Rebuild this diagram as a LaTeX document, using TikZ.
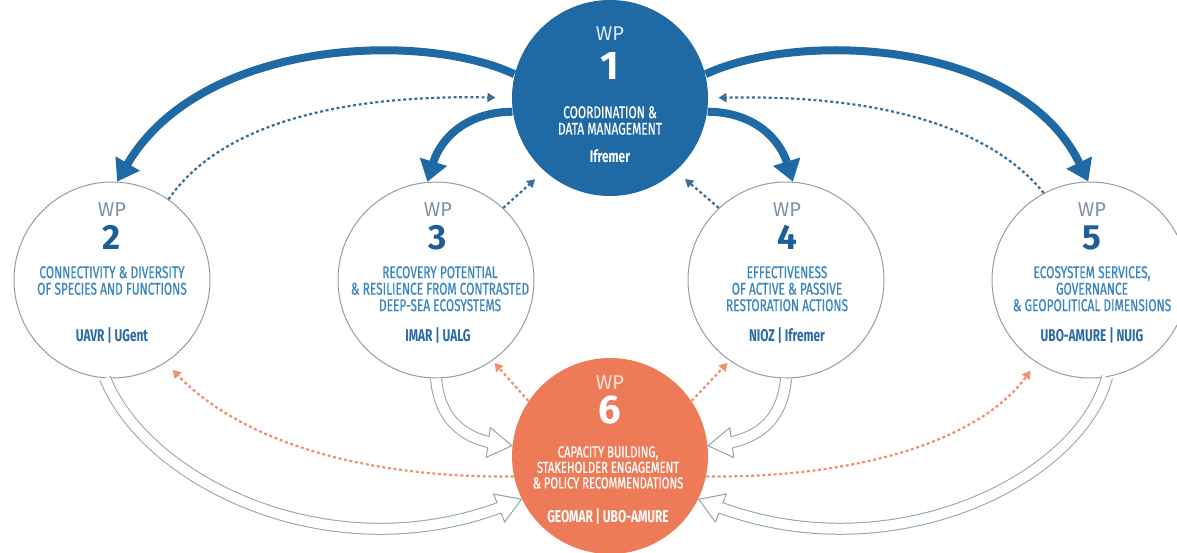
\documentclass[tikz,border=0pt]{standalone}
\usepackage{fontspec}
\setmainfont{Fira Sans}
\newfontfamily\cond[FakeStretch=0.7]{Fira Sans}
\newfontfamily\condb[FakeStretch=0.7,FakeBold=0.6]{Fira Sans}
\usetikzlibrary{arrows.meta,decorations.markings}
\definecolor{wpblue}{HTML}{1F69A5}
\definecolor{wporange}{HTML}{EE7B57}
\definecolor{ring}{HTML}{8E9FAA}
\definecolor{txtblue}{HTML}{3A86C0}
\definecolor{numblue}{HTML}{1C5F98}
\definecolor{partblue}{HTML}{2A6BA6}
\definecolor{wpgray}{HTML}{7F93A5}
\definecolor{dotb}{HTML}{3A6F99}
\definecolor{doto}{HTML}{F0916C}
\definecolor{hol}{HTML}{8FA3B0}
\newcommand\hollowarr[4]{%
  \draw[hollowshaft] #1 .. controls #2 and #3 .. #4;
  \path[hollowhead] #1 .. controls #2 and #3 .. #4;}
\begin{document}
\begin{tikzpicture}[x=1pt,y=-1pt,
  circ/.style={circle, minimum size=196pt, inner sep=0pt, draw=ring, line width=1pt, fill=white},
  wpl/.style={font=\fontsize{20}{20}\selectfont, text=wpgray, inner sep=0pt, anchor=base},
  numl/.style={font=\bfseries\fontsize{35}{35}\selectfont, text=numblue, inner sep=0pt, anchor=base},
  bodyl/.style={font=\condb\fontsize{17}{16.5}\selectfont, text=txtblue, align=center, inner sep=0pt, anchor=north},
  partl/.style={font=\cond\bfseries\fontsize{17}{17}\selectfont, text=partblue, inner sep=0pt, anchor=base},
  bigarrow/.style={draw=wpblue, line width=8pt, -{Triangle[length=21pt,width=27pt]}},
  dotblue/.style={draw=dotb, line width=2.2pt, dash pattern=on 3pt off 2.6pt, -{Triangle[length=8pt,width=9pt]}},
  dotorange/.style={draw=doto, line width=2.2pt, dash pattern=on 3pt off 2.6pt, -{Triangle[length=8pt,width=9pt]}},
  hollowshaft/.style={draw=hol, line width=1pt, double=white, double distance=10pt, shorten >=14pt},
  hollowhead/.style={postaction={decorate},
    decoration={markings, mark=at position 0.9999 with {
      \fill[white] (0.5pt,0pt) -- (-24pt,15pt) -- (-24pt,-15pt) -- cycle;
      \draw[hol, line width=1pt, line join=miter] (-24pt,5.5pt) -- (-24pt,15pt) -- (0pt,0pt) -- (-24pt,-15pt) -- (-24pt,-5.5pt);
    }}}
]
\useasboundingbox[fill=white] (0,0) rectangle (1177,552);

% circles
\node[circ] (wp2) at (112,280) {};
\node[circ] (wp3) at (436,280) {};
\node[circ] (wp4) at (786,280) {};
\node[circ] (wp5) at (1090,280) {};
\node[circ, fill=wpblue, draw=none] (wp1) at (610,98) {};
\node[circ, fill=wporange, draw=none] (wp6) at (610,456) {};

% thick arrows from WP1
\draw[bigarrow] (wp1.166) .. controls (420,30) and (200,40) .. (wp2.87);
\draw[bigarrow] (wp1.188) .. controls (465,112) and (440,140) .. (wp3.95);
\draw[bigarrow] (wp1.-8) .. controls (755,112) and (780,140) .. (wp4.86);
\draw[bigarrow] (wp1.14) .. controls (800,30) and (1020,40) .. (wp5.91);

% dotted blue feedback
\draw[dotblue, shorten >=16pt] (wp2.55) .. controls (230,110) and (380,95) .. (wp1.west);
\draw[dotblue, shorten >=12pt] (wp3.47) -- (wp1.228);
\draw[dotblue, shorten >=12pt] (wp4.133) -- (wp1.-48);
\draw[dotblue, shorten >=10pt] (wp5.118) .. controls (980,115) and (850,95) .. (wp1.east);

% orange dotted from WP6
\draw[dotorange, shorten >=10pt] (wp6.192) .. controls (360,478) and (240,440) .. (wp2.-57);
\draw[dotorange, shorten >=3pt] (wp6.146) -- (wp3.-55);
\draw[dotorange, shorten >=3pt] (wp6.34) -- (wp4.-125);
\draw[dotorange, shorten >=10pt] (wp6.-12) .. controls (860,478) and (980,440) .. (wp5.237);

% hollow arrows to WP6
\hollowarr{(wp2.266)}{(145,480)}{(330,575)}{(wp6.206)}
\hollowarr{(wp3.270)}{(440,425)}{(470,440)}{(wp6.174)}
\hollowarr{(wp4.270)}{(782,425)}{(752,440)}{(wp6.6)}
\hollowarr{(wp5.-80)}{(1080,480)}{(890,575)}{(wp6.-26)}

% WP1 texts
\node[wpl, text=white!85!wpblue] (t1a) at (610,40) {WP};
\node[numl, text=white, font=\bfseries\fontsize{40}{40}\selectfont] (t1b) at (610,79) {1};
\node[bodyl, text=white] (t1c) at (610,106) {COORDINATION \&\\DATA MANAGEMENT};
\node[partl, text=white] (t1d) at (610,162) {Ifremer};

% WP2 texts
\node[wpl] (t2a) at (112,216) {WP};
\node[numl] (t2b) at (112,249) {2};
\node[bodyl] (t2c) at (112,266) {CONNECTIVITY \& DIVERSITY\\OF SPECIES AND FUNCTIONS};
\node[partl] (t2d) at (112,341) {UAVR | UGent};

% WP3 texts
\node[wpl] (t3a) at (438,216) {WP};
\node[numl] (t3b) at (438,249) {3};
\node[bodyl] (t3c) at (440,266) {RECOVERY POTENTIAL\\\& RESILIENCE FROM CONTRASTED\\DEEP-SEA ECOSYSTEMS};
\node[partl] (t3d) at (438,341) {IMAR | UALG};

% WP4 texts
\node[wpl] (t4a) at (787,216) {WP};
\node[numl] (t4b) at (787,249) {4};
\node[bodyl] (t4c) at (787,266) {EFFECTIVENESS\\OF ACTIVE \& PASSIVE\\RESTORATION ACTIONS};
\node[partl] (t4d) at (787,341) {NIOZ | Ifremer};

% WP5 texts
\node[wpl] (t5a) at (1092,216) {WP};
\node[numl] (t5b) at (1092,249) {5};
\node[bodyl] (t5c) at (1092,266) {ECOSYSTEM SERVICES,\\GOVERNANCE\\\& GEOPOLITICAL DIMENSIONS};
\node[partl] (t5d) at (1092,341) {UBO-AMURE | NUIG};

% WP6 texts
\node[wpl, text=white!80!wporange] (t6a) at (610,389) {WP};
\node[numl, text=white, font=\bfseries\fontsize{40}{40}\selectfont] (t6b) at (610,423) {6};
\node[bodyl, text=white, font=\condb\fontsize{16}{15.5}\selectfont] (t6c) at (608,446) {CAPACITY BUILDING,\\STAKEHOLDER ENGAGEMENT\\\& POLICY RECOMMENDATIONS};
\node[partl, text=white] (t6d) at (608,522) {GEOMAR | UBO-AMURE};
\end{tikzpicture}
\end{document}
